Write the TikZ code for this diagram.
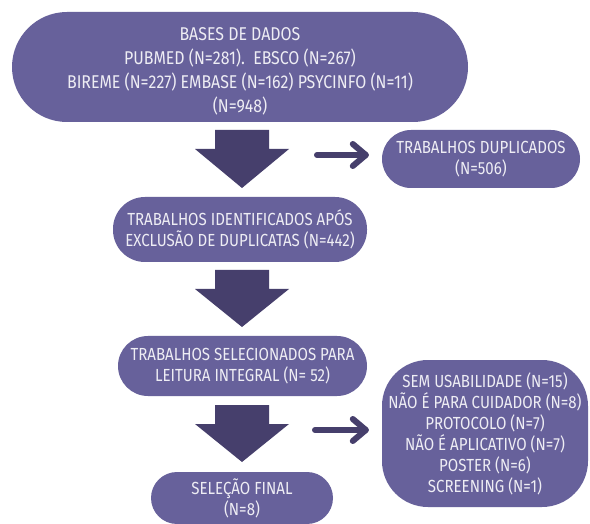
\documentclass[tikz,border=0pt]{standalone}
\usepackage{fontspec}
\setmainfont{Fira Sans}[FakeStretch=0.86]
\definecolor{boxc}{HTML}{67619B}
\definecolor{arrc}{HTML}{463F6C}
\definecolor{txtc}{HTML}{EEEDF4}
\tikzset{
  stad/.style={fill=boxc, text=txtc, inner sep=0pt, align=center,
    font=\fontsize{17.5}{21}\selectfont},
  blk/.style={fill=arrc},
  thin arrow/.style={draw=arrc, line width=6pt, line cap=round, line join=round},
}
\newcommand\blkarrow[4]{% name, x center, y top, y tip
  \fill[blk] (#2-27,#3) -- (#2+27,#3) -- (#2+27,#3+19) -- (#2+47,#3+19)
     -- (#2,#4) -- (#2-47,#3+19) -- (#2-27,#3+19) -- cycle;
  \coordinate (#1) at (#2,#4);}
\begin{document}
\begin{tikzpicture}[x=1pt,y=-1pt]
\useasboundingbox (0,0) rectangle (590,524);
\fill[white] (0,0) rectangle (590,524);
% boxes
\node[stad, minimum width=456pt, minimum height=110pt, rounded corners=55pt]
  (bases) at (240,67) {};
\node[text=txtc, inner sep=0pt, align=center, font=\fontsize{18.5}{24}\selectfont]
  (basestext) at ([yshift=-4pt]bases.center) {BASES DE DADOS\\PUBMED (N=281).\ \ EBSCO (N=267)\\BIREME (N=227) EMBASE (N=162) PSYCINFO (N=11)\\(N=948)};
\node[stad, minimum width=198pt, minimum height=58pt, rounded corners=29pt]
  (dup) at (481,159) {TRABALHOS DUPLICADOS\\(N=506)};
\node[stad, minimum width=254pt, minimum height=65pt, rounded corners=32pt]
  (ident) at (240,229.5) {TRABALHOS IDENTIFICADOS APÓS\\EXCLUSÃO DE DUPLICATAS (N=442)};
\node[stad, minimum width=249pt, minimum height=60pt, rounded corners=30pt]
  (sel) at (242.5,366) {TRABALHOS SELECIONADOS PARA\\LEITURA INTEGRAL (N= 52)};
\node[stad, minimum width=182pt, minimum height=52pt, rounded corners=26pt]
  (final) at (242,498) {SELEÇÃO FINAL\\(N=8)};
\node[stad, minimum width=206pt, minimum height=147pt, rounded corners=46pt]
  (excl) at (485,433.5) {SEM USABILIDADE (N=15)\\NÃO É PARA CUIDADOR (N=8)\\PROTOCOLO (N=7)\\NÃO É APLICATIVO (N=7)\\POSTER (N=6)\\SCREENING (N=1)};
% block arrows
\blkarrow{a1}{242}{130}{188}
\blkarrow{a2}{242}{270}{327}
\blkarrow{a3}{242}{405}{462}
% thin arrows
\coordinate (r1s) at (317,155);
\coordinate (r1e) at (dup.west |- r1s);
\draw[thin arrow] (r1s) -- ([xshift=-16pt]r1e);
\draw[thin arrow] ([xshift=-29pt,yshift=11pt]r1e) -- ([xshift=-16pt]r1e) -- ([xshift=-29pt,yshift=-11pt]r1e);
\coordinate (r2s) at (315,430);
\coordinate (r2e) at (excl.west |- r2s);
\draw[thin arrow] (r2s) -- ([xshift=-16pt]r2e);
\draw[thin arrow] ([xshift=-29pt,yshift=11pt]r2e) -- ([xshift=-16pt]r2e) -- ([xshift=-29pt,yshift=-11pt]r2e);
\end{tikzpicture}
\end{document}
